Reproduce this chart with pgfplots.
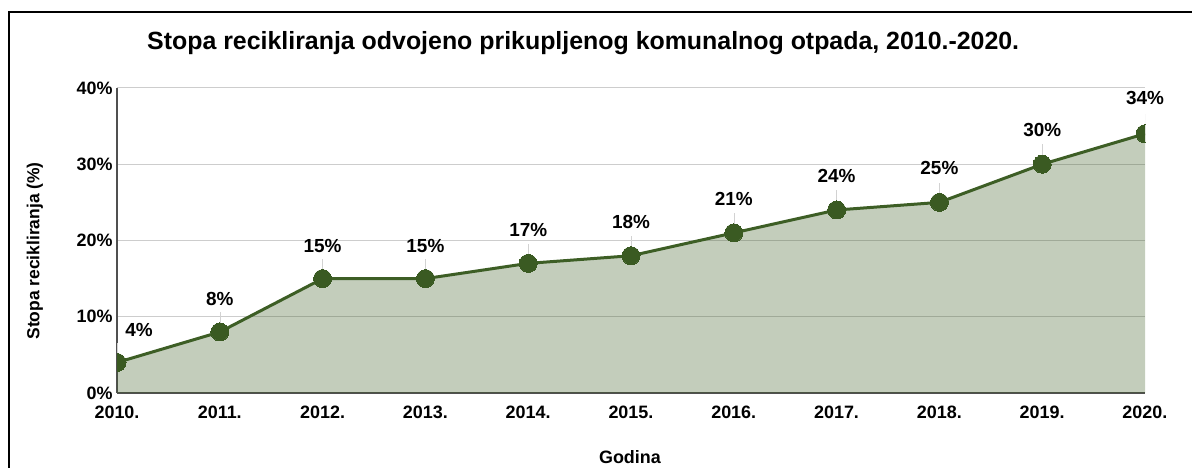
\documentclass[border=0pt]{standalone}
\usepackage{pgfplots}
\pgfplotsset{compat=1.18}
\usepackage{pgfplotstable}
\usepackage{fontspec}
\setmainfont{Liberation Sans}
\definecolor{lineg}{RGB}{61,94,37}
\definecolor{markg}{RGB}{58,90,34}
\definecolor{gridc}{RGB}{205,205,205}
\definecolor{axc}{RGB}{80,80,80}
\pgfplotstableread{
x y dx dy
2010 4 22 33
2011 8 0 33
2012 15 0 33
2013 15 0 33
2014 17 0 33
2015 18 0 34
2016 21 0 34
2017 24 0 34
2018 25 0 34
2019 30 0 34
2020 34 0 36
}\recyc
\pgfplotsset{common/.style={
  at={(117bp,75bp)}, anchor=south west,
  scale only axis, width=1028bp, height=305bp,
  xmin=2010, xmax=2020, ymin=0, ymax=40}}
\begin{document}
\begin{tikzpicture}[x=1bp,y=1bp]
\useasboundingbox (0,0) rectangle (1192,468);
\draw[black,line width=2.5bp] (9,0) -- (9,456) -- (1192,456);
\node[anchor=base west,font=\fontsize{25}{27}\selectfont\bfseries,inner sep=0pt] at (147,418) {Stopa recikliranja odvojeno prikupljenog komunalnog otpada, 2010.-2020.};
\begin{axis}[common,
  axis x line*=bottom, axis y line*=left,
  axis line style={axc,line width=1.2bp},
  x axis line style={-}, y axis line style={-},
  xtick={2010,...,2020},
  xticklabels={2010.,2011.,2012.,2013.,2014.,2015.,2016.,2017.,2018.,2019.,2020.},
  ytick={0,10,20,30,40},
  yticklabels={0\%,10\%,20\%,30\%,40\%},
  major tick length=0pt,
  tick label style={font=\fontsize{18}{18}\selectfont\bfseries},
  xticklabel style={yshift=-9bp},
  yticklabel style={xshift=-1bp},
  ymajorgrids, grid style={gridc,line width=1bp},
  clip marker paths=true,
  xlabel={Godina}, ylabel={Stopa recikliranja (\%)},
  every axis x label/.style={at={(axis description cs:0.499,-0.21)},anchor=center,font=\fontsize{18}{18}\selectfont\bfseries},
  every axis y label/.style={at={(axis description cs:-0.0798,0.466)},anchor=center,rotate=90,font=\fontsize{17.5}{17.5}\selectfont\bfseries},
]
\addplot[draw=none, fill=lineg, fill opacity=0.31] table[x=x,y=y] {\recyc} \closedcycle;
\addplot[draw=none, mark=none, forget plot,
  error bars/.cd, y dir=plus, y fixed=2.6, error mark=none,
  error bar style={gray!35, line width=0.6bp}] table[x=x,y=y] {\recyc};
\addplot[lineg, line width=3bp, mark=*, mark size=9bp,
  mark options={fill=markg, draw=markg, line width=0bp}] table[x=x,y=y] {\recyc};
\end{axis}
\begin{axis}[common, hide axis, clip=false]
\addplot[draw=none, mark=none,
  point meta=y,
  visualization depends on={\thisrow{dx} \as \dx},
  visualization depends on={\thisrow{dy} \as \dy},
  nodes near coords={\pgfmathprintnumber[assume math mode=true]{\pgfplotspointmeta}\%},
  every node near coord/.style={anchor=center, xshift=\dx bp, yshift=\dy bp, black, font=\fontsize{19}{19}\selectfont\bfseries},
] table[x=x,y=y] {\recyc};
\end{axis}
\end{tikzpicture}
\end{document}
